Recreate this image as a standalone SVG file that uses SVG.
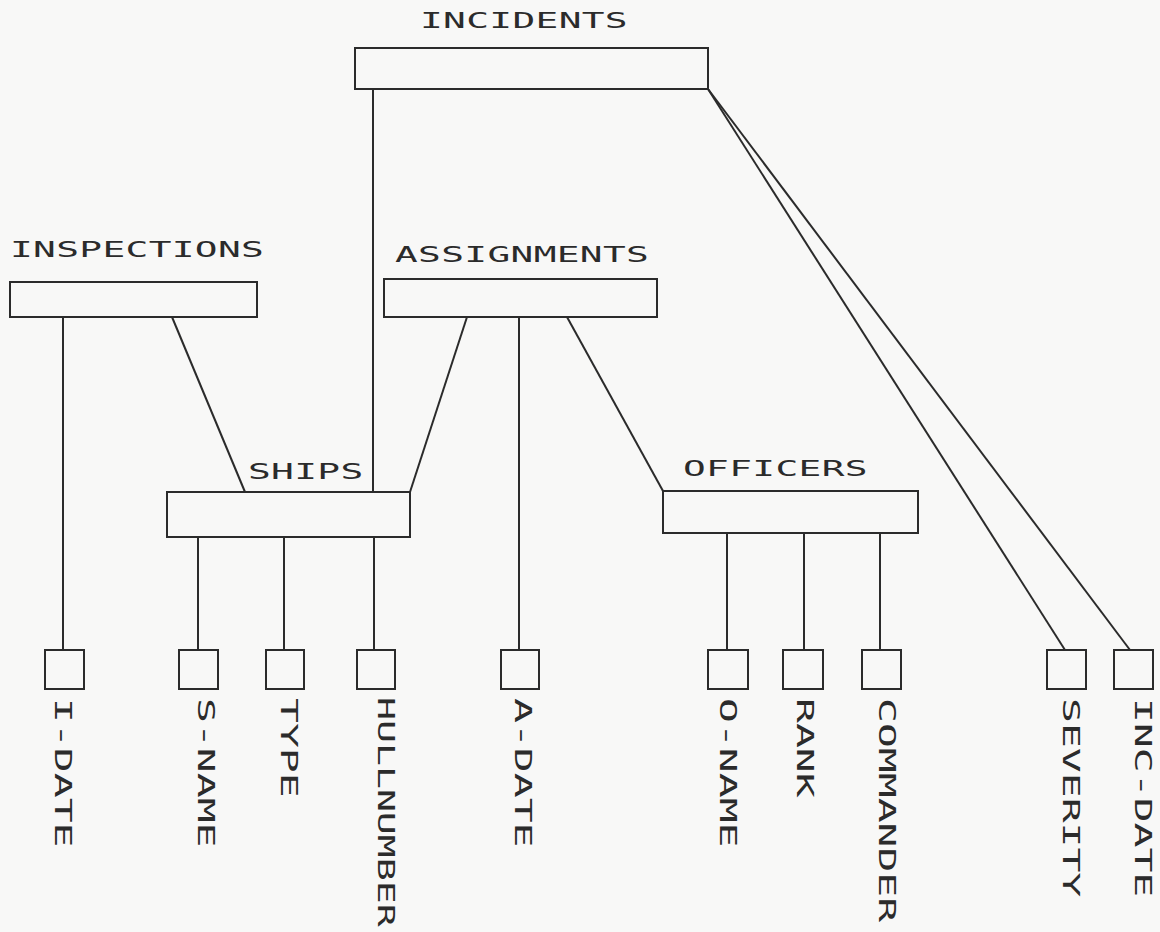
<svg xmlns="http://www.w3.org/2000/svg" width="1160" height="932" viewBox="0 0 1160 932">
<style>
.bg{fill:#f8f8f7}
.box{fill:none;stroke:#2b2b2b;stroke-width:2}
.ln{fill:none;stroke:#2b2b2b;stroke-width:2}
.h{font-family:"DejaVu Sans Mono","Liberation Mono",monospace;font-size:21px;letter-spacing:0.2px;fill:#2b2b2b}
.v{font-family:"DejaVu Sans Mono","Liberation Mono",monospace;font-size:23px;letter-spacing:0px;fill:#2b2b2b}
</style>
<rect class="bg" x="0" y="0" width="1160" height="932"/>
<g id="connectors">
<line class="ln" x1="373" y1="89" x2="373" y2="492"/>
<line class="ln" x1="708" y1="89" x2="1065" y2="650"/>
<line class="ln" x1="708" y1="89" x2="1130" y2="650"/>
<line class="ln" x1="63" y1="317" x2="63" y2="650"/>
<line class="ln" x1="172" y1="317" x2="245" y2="492"/>
<line class="ln" x1="467" y1="317" x2="410" y2="492"/>
<line class="ln" x1="519" y1="317" x2="519" y2="650"/>
<line class="ln" x1="567" y1="317" x2="663" y2="491"/>
<line class="ln" x1="198" y1="537" x2="198" y2="650"/>
<line class="ln" x1="284" y1="537" x2="284" y2="650"/>
<line class="ln" x1="374" y1="537" x2="374" y2="650"/>
<line class="ln" x1="727" y1="533" x2="727" y2="650"/>
<line class="ln" x1="804" y1="533" x2="804" y2="650"/>
<line class="ln" x1="880" y1="533" x2="880" y2="650"/>
</g>
<g id="incidents">
<rect class="box" x="355" y="48" width="353" height="41"/>
<text class="h" transform="translate(420 28) scale(1.8 1)">INCIDENTS</text>
</g>
<g id="inspections">
<rect class="box" x="10" y="282" width="247" height="35"/>
<text class="h" transform="translate(10 257) scale(1.8 1)">INSPECTIONS</text>
</g>
<g id="assignments">
<rect class="box" x="384" y="279" width="273" height="38"/>
<text class="h" transform="translate(395 262) scale(1.8 1)">ASSIGNMENTS</text>
</g>
<g id="ships">
<rect class="box" x="167" y="492" width="243" height="45"/>
<text class="h" transform="translate(248 479) scale(1.8 1)">SHIPS</text>
</g>
<g id="officers">
<rect class="box" x="663" y="491" width="255" height="42"/>
<text class="h" transform="translate(683 476) scale(1.8 1)">OFFICERS</text>
</g>
<g id="i-date">
<rect class="box" x="45" y="650" width="39" height="39"/>
<text class="v" transform="translate(55 698) rotate(90) scale(1.8 1)">I-DATE</text>
</g>
<g id="s-name">
<rect class="box" x="179" y="650" width="39" height="39"/>
<text class="v" transform="translate(198 698) rotate(90) scale(1.8 1)">S-NAME</text>
</g>
<g id="type">
<rect class="box" x="266" y="650" width="38" height="39"/>
<text class="v" transform="translate(281 698) rotate(90) scale(1.8 1)">TYPE</text>
</g>
<g id="hullnumber">
<rect class="box" x="357" y="650" width="38" height="39"/>
<text class="v" transform="translate(378 697) rotate(90) scale(1.66 1)">HULLNUMBER</text>
</g>
<g id="a-date">
<rect class="box" x="501" y="650" width="38" height="39"/>
<text class="v" transform="translate(515 698) rotate(90) scale(1.8 1)">A-DATE</text>
</g>
<g id="o-name">
<rect class="box" x="708" y="650" width="40" height="39"/>
<text class="v" transform="translate(720 698) rotate(90) scale(1.8 1)">O-NAME</text>
</g>
<g id="rank">
<rect class="box" x="783" y="650" width="40" height="39"/>
<text class="v" transform="translate(797 698) rotate(90) scale(1.8 1)">RANK</text>
</g>
<g id="commander">
<rect class="box" x="862" y="650" width="39" height="39"/>
<text class="v" transform="translate(879 698) rotate(90) scale(1.8 1)">COMMANDER</text>
</g>
<g id="severity">
<rect class="box" x="1047" y="650" width="39" height="39"/>
<text class="v" transform="translate(1063 698) rotate(90) scale(1.8 1)">SEVERITY</text>
</g>
<g id="inc-date">
<rect class="box" x="1114" y="650" width="39" height="39"/>
<text class="v" transform="translate(1135 698) rotate(90) scale(1.8 1)">INC-DATE</text>
</g>
</svg>
